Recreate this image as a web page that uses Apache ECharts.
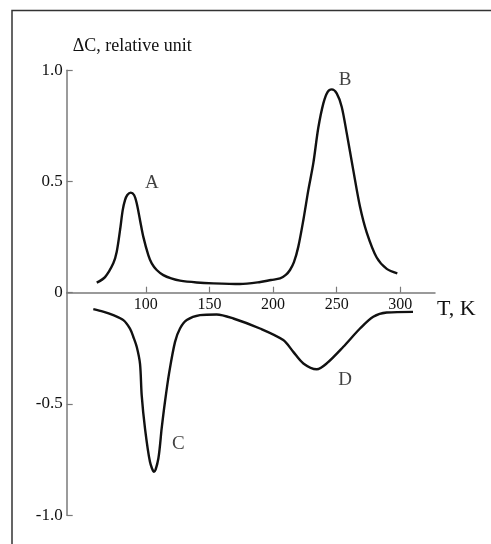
<!DOCTYPE html>
<html>
<head>
<meta charset="utf-8">
<title>ΔC vs T</title>
<script src="https://cdn.jsdelivr.net/npm/echarts@6/dist/echarts.min.js"></script>
<style>
    html, body { margin: 0; padding: 0; background: #fff; }
    #chart { width: 491px; height: 544px; }
</style>
</head>
<body>
<div id="chart"></div>
<script>
// data: [T (K), ΔC]
const upperCurve = [
    [61.5, 0.045], [68.0, 0.070], [74.5, 0.132], [77.2, 0.184], [79.8, 0.281],
    [81.9, 0.371], [83.7, 0.416], [85.5, 0.439], [88.2, 0.450], [90.8, 0.439],
    [92.9, 0.402], [95.5, 0.326], [98.1, 0.251], [102.0, 0.169], [104.7, 0.132],
    [108.6, 0.102], [113.8, 0.079], [120.0, 0.064], [126.9, 0.054], [140.0, 0.046],
    [153.1, 0.042], [174.0, 0.039], [190.0, 0.048], [198.4, 0.057], [205.5, 0.064],
    [210.0, 0.080], [213.3, 0.102], [216.4, 0.137], [219.8, 0.206], [223.8, 0.327],
    [227.7, 0.461], [231.6, 0.581], [235.5, 0.740], [239.5, 0.851], [242.9, 0.903],
    [246.1, 0.914], [250.0, 0.896], [253.9, 0.836], [257.9, 0.716], [263.0, 0.551],
    [268.3, 0.386], [273.6, 0.270], [281.4, 0.158], [289.3, 0.107], [297.6, 0.087]
];
const lowerCurve = [
    [58.8, -0.074], [66.5, -0.085], [74.5, -0.101], [82.4, -0.123], [87.6, -0.161],
    [90.2, -0.198], [93.0, -0.245], [95.5, -0.320], [96.8, -0.460], [99.4, -0.610],
    [103.3, -0.760], [106.5, -0.805], [109.9, -0.745], [112.5, -0.610], [115.1, -0.490],
    [118.5, -0.356], [123.0, -0.221], [126.9, -0.161], [132.2, -0.123], [142.6, -0.101],
    [155.7, -0.098], [168.8, -0.116], [189.7, -0.161], [208.0, -0.213], [215.9, -0.266],
    [223.8, -0.318], [234.3, -0.344], [242.1, -0.318], [255.2, -0.243], [268.3, -0.161],
    [278.7, -0.108], [289.3, -0.089], [309.9, -0.086]
];
// peak letters
const peakNames = ['A', 'B', 'C', 'D'];
const peakPos = [[104.7, 0.491], [256.5, 0.955], [125.6, -0.678], [256.5, -0.393]];
// ticks
const xTicks = [100, 150, 200, 250, 300];
const yTicks = [-1.0, -0.5, 0, 0.5, 1.0];

const FONT = '"Liberation Serif", "DejaVu Serif", serif';
const INK = '#111';
const AXIS = '#7a7a7a';

const GRID = { left: 66.7, top: 70.2, width: 368.3, height: 445 };
// x axis sits on ΔC = 0, half way up the plot
const X_OFFSET = -GRID.height / 2;

const chart = echarts.init(document.getElementById('chart'));

const option = {
    animation: false,
    backgroundColor: '#fff',
    grid: GRID,
    xAxis: {
        type: 'value',
        min: 37.9,
        max: 327.2,
        position: 'bottom',
        offset: X_OFFSET,
        name: 'T, K',
        nameLocation: 'end',
        nameGap: 2,
        nameTextStyle: { fontFamily: FONT, fontSize: 22, color: INK, align: 'left', verticalAlign: 'top', lineHeight: 34 },
        axisLine: { onZero: false, lineStyle: { color: AXIS, width: 1.5 } },
        axisTick: { show: true, inside: true, length: 6, customValues: xTicks, lineStyle: { color: AXIS, width: 1.2 } },
        axisLabel: { customValues: xTicks, fontFamily: FONT, fontSize: 16, color: INK, margin: 4 },
        splitLine: { show: false }
    },
    yAxis: {
        type: 'value',
        min: -1,
        max: 1,
        name: 'ΔC, relative unit',
        nameLocation: 'end',
        nameGap: 15,
        nameTextStyle: { fontFamily: FONT, fontSize: 18, color: INK, align: 'left', padding: [0, 0, 0, 6] },
        axisLine: { show: true, onZero: false, lineStyle: { color: AXIS, width: 1.5 } },
        axisTick: { show: true, inside: true, length: 6, customValues: yTicks, lineStyle: { color: AXIS, width: 1.2 } },
        axisLabel: {
            customValues: yTicks,
            fontFamily: FONT, fontSize: 17, color: INK, margin: 4,
            formatter: v => (v === 0 ? '0' : v.toFixed(1))
        },
        splitLine: { show: false }
    },
    graphic: [
        // frame round the figure (only top and left edges fall inside the picture)
        { type: 'rect', shape: { x: 12, y: 10.5, width: 700, height: 700 }, style: { fill: 'none', stroke: '#333', lineWidth: 1.5 }, silent: true }
    ],
    series: [
        {
            type: 'line', data: upperCurve, smooth: 0.3, symbol: 'none',
            lineStyle: { color: INK, width: 2.4 }
        },
        {
            type: 'line', data: lowerCurve, smooth: 0.3, symbol: 'none',
            lineStyle: { color: INK, width: 2.4 }
        },
        {
            type: 'scatter',
            symbolSize: 0,
            silent: true,
            data: peakNames.map((n, i) => ({ name: n, value: peakPos[i] })),
            label: {
                show: true, position: 'inside', formatter: '{b}',
                fontFamily: FONT, fontSize: 19, color: INK
            }
        }
    ]
};

chart.setOption(option);
</script>
</body>
</html>
